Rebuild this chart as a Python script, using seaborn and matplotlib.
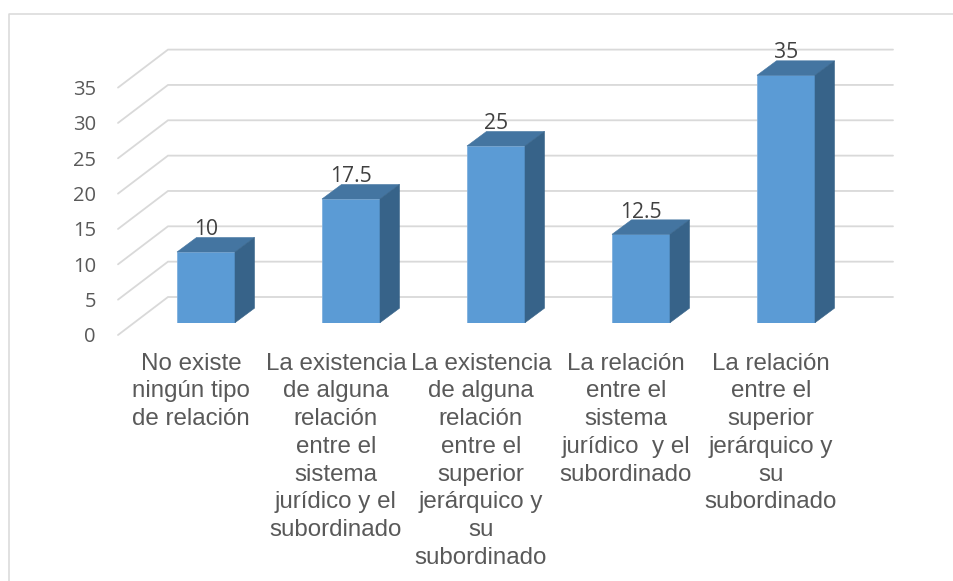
import matplotlib
matplotlib.use('Agg')
import matplotlib.pyplot as plt
import seaborn as sns
from matplotlib.lines import Line2D
from matplotlib.patches import Polygon
from matplotlib.transforms import ScaledTranslation

categorias = [
    'No existe\nningún tipo\nde relación',
    'La existencia\nde alguna\nrelación\nentre el\nsistema\njurídico y el\nsubordinado',
    'La existencia\nde alguna\nrelación\nentre el\nsuperior\njerárquico y\nsu\nsubordinado',
    'La relación\nentre el\nsistema\njurídico  y el\nsubordinado',
    'La relación\nentre el\nsuperior\njerárquico y\nsu\nsubordinado',
]
valores = [10, 17.5, 25, 12.5, 35]
ticks_y = [0, 5, 10, 15, 20, 25, 30, 35]

W, H = 954, 581
# plano de las barras en pixeles de la imagen
X0, X1, Y_BASE, Y_TOP = 133.5, 858.5, 322.7, 75.3
PX_X = 5 / (X1 - X0)
PX_Y = 35 / (Y_BASE - Y_TOP)

sns.set_theme(style='white')
fig = plt.figure(figsize=(W / 100, H / 100), dpi=100)
ax = fig.add_axes([X0 / W, 1 - Y_BASE / H, (X1 - X0) / W, (Y_BASE - Y_TOP) / H])

sns.barplot(x=categorias, y=valores, color='#5B9BD5', saturation=1, width=0.4,
            edgecolor='#7FB0DE', linewidth=0.6, ax=ax, zorder=3)
ax.set_xlim(-0.5, 4.5)
ax.set_ylim(0, 35)
ax.patch.set_visible(False)
sns.despine(ax=ax, left=True, bottom=True)

# lineas de la rejilla: pared del fondo y diagonal del lateral
for t in ticks_y:
    xs = [-0.5 - 15.5 * PX_X, -0.5 + 34.5 * PX_X, 4.5 + 34.5 * PX_X]
    ys = [t - 12.3 * PX_Y, t + 25.7 * PX_Y, t + 25.7 * PX_Y]
    ax.plot(xs, ys, color='#D9D9D9', lw=1.3, clip_on=False, zorder=1,
            solid_joinstyle='miter')

# caras superior y lateral de cada barra
dx, dy = 19.5 * PX_X, 14.5 * PX_Y
for bar in ax.containers[0]:
    x0, x1, h = bar.get_x(), bar.get_x() + bar.get_width(), bar.get_height()
    ax.add_patch(Polygon([(x0, h), (x1, h), (x1 + dx, h + dy), (x0 + dx, h + dy)],
                         facecolor='#4475A1', edgecolor='#4475A1', lw=0.4,
                         clip_on=False, zorder=3))
    ax.add_patch(Polygon([(x1, 0), (x1 + dx, dy), (x1 + dx, h + dy), (x1, h)],
                         facecolor='#376389', edgecolor='#376389', lw=0.4,
                         clip_on=False, zorder=3))

ax.bar_label(ax.containers[0], labels=[f'{v:g}' for v in valores], padding=8.5,
             fontsize=15.2, family='Open Sans', color='#404040', zorder=5)

# etiquetas de los ejes
ax.set_yticks(ticks_y)
ax.set_yticklabels(ticks_y, fontsize=14.5, family='Open Sans', color='#595959')
ax.tick_params(axis='y', length=0, pad=27)
ax.tick_params(axis='x', length=0, pad=21.5)
for lab in ax.get_yticklabels():
    lab.set_transform(lab.get_transform() + ScaledTranslation(0, -12.3 / 100, fig.dpi_scale_trans))
for lab in ax.get_xticklabels():
    lab.set_fontsize(17.4)
    lab.set_family('Liberation Sans')
    lab.set_color('#595959')
    lab.set_linespacing(1.34)
    lab.set_transform(lab.get_transform() + ScaledTranslation(-15 / 100, 0, fig.dpi_scale_trans))

# borde del grafico (arriba e izquierda)
fig.add_artist(Line2D([9.5 / W, 9.5 / W, 1], [0, 1 - 14 / H, 1 - 14 / H],
                      color='#D9D9D9', lw=1.1))

fig.savefig('out.png', dpi=100)
